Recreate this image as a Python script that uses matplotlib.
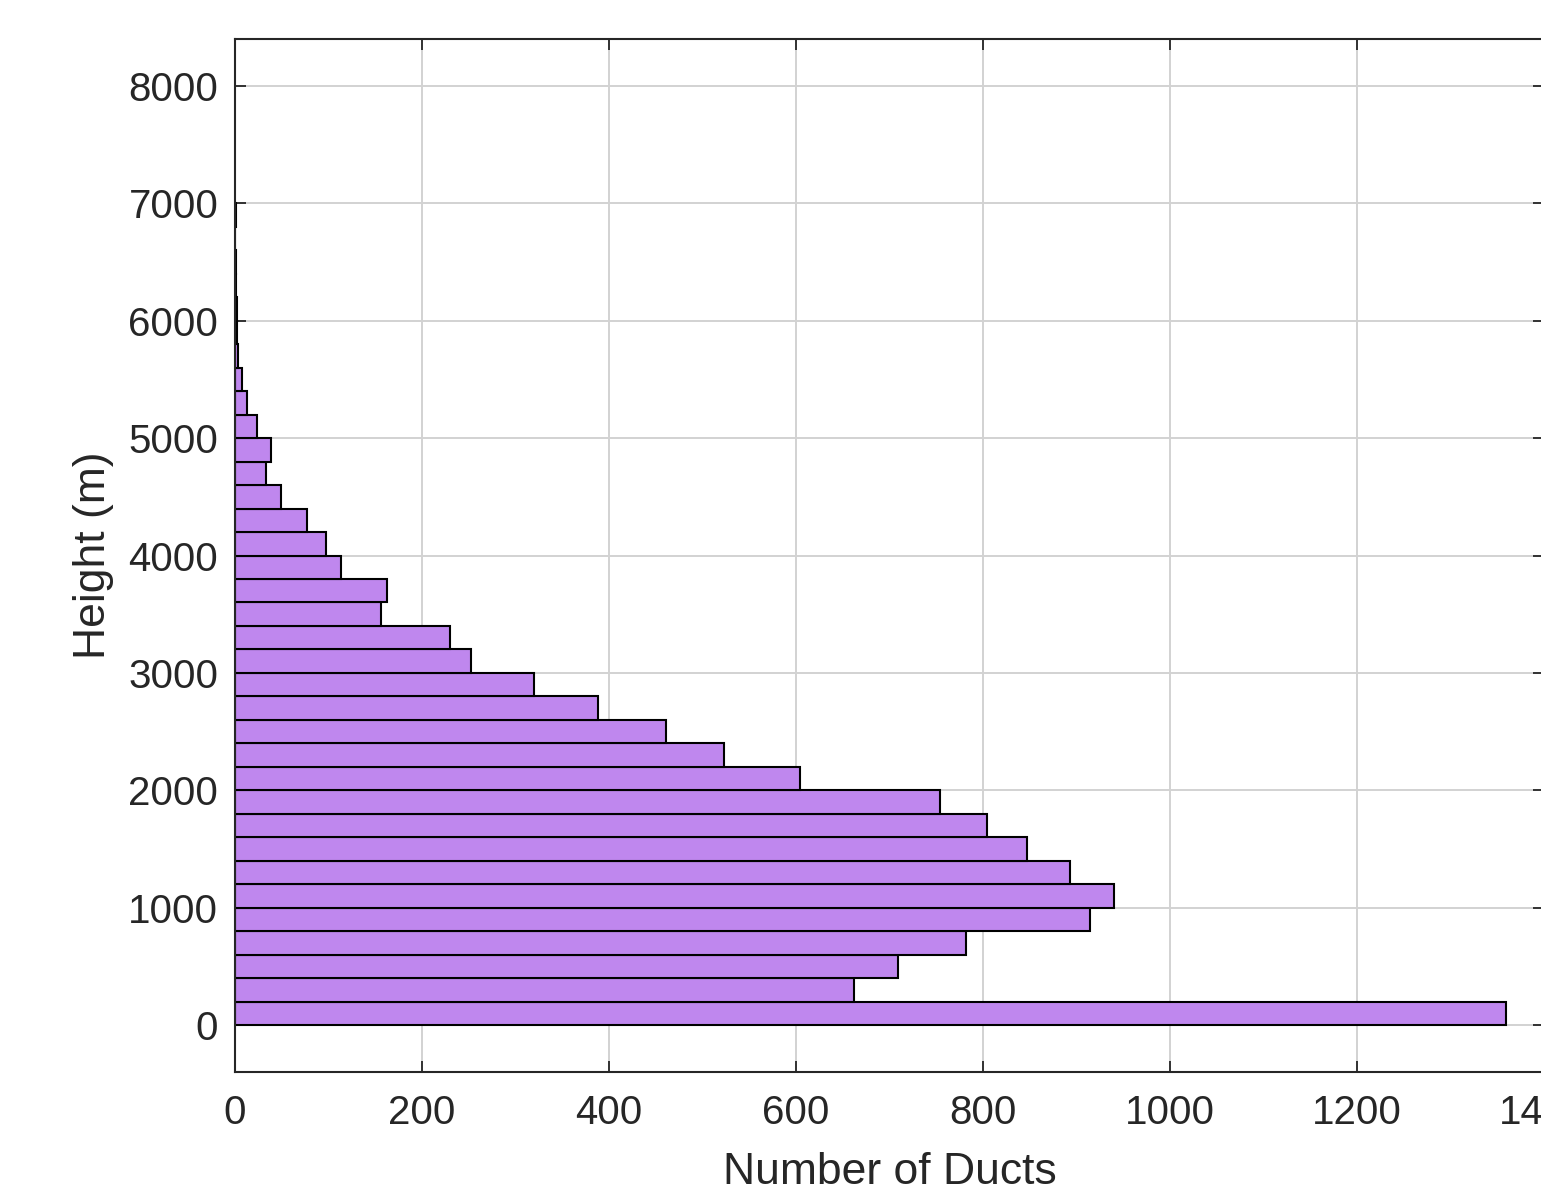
import numpy as np
import matplotlib.pyplot as plt

plt.rcParams['font.family'] = ['Liberation Sans', 'DejaVu Sans']

# histogram bins (m) and duct counts per bin
bin_edges = np.arange(0, 7001, 200)
counts = [1359, 662, 709, 782, 914, 940, 893, 847, 804, 754,
          604, 523, 461, 388, 320, 252, 230, 156, 163, 113,
          97, 77, 49, 33, 38, 24, 13, 8, 3, 2,
          2, 1, 1, 0, 1]
xticks = [0, 200, 400, 600, 800, 1000, 1200, 1400]
yticks = [0, 1000, 2000, 3000, 4000, 5000, 6000, 7000, 8000]

fig = plt.figure(figsize=(15.41, 11.97), dpi=100)
ax = fig.add_axes([0.1525, 0.1044, 0.8495, 0.863])

ax.barh(bin_edges[:-1], counts, height=np.diff(bin_edges), align='edge',
        color='#bf87ee', edgecolor='#000000', linewidth=1.5, zorder=3)

ax.set_xlim(0, 1400)
ax.set_ylim(-400, 8400)
ax.set_xticks(xticks)
ax.set_yticks(yticks)
ax.grid(True, color='#d2d2d2', linewidth=1.4, zorder=0)
ax.set_axisbelow(True)

ax.tick_params(direction='in', length=8, width=1.3, color='#262626',
               labelsize=29, labelcolor='#262626', top=True, right=True)
ax.tick_params(axis='x', pad=16)
ax.tick_params(axis='y', pad=12)
for s in ax.spines.values():
    s.set_color('#262626')
    s.set_linewidth(1.5)
    s.set_zorder(4)

ax.set_xlabel('Number of Ducts', fontsize=32, color='#262626', labelpad=14)
ax.set_ylabel('Height (m)', fontsize=32, color='#262626', labelpad=10)

fig.savefig('out.png', dpi=100)
